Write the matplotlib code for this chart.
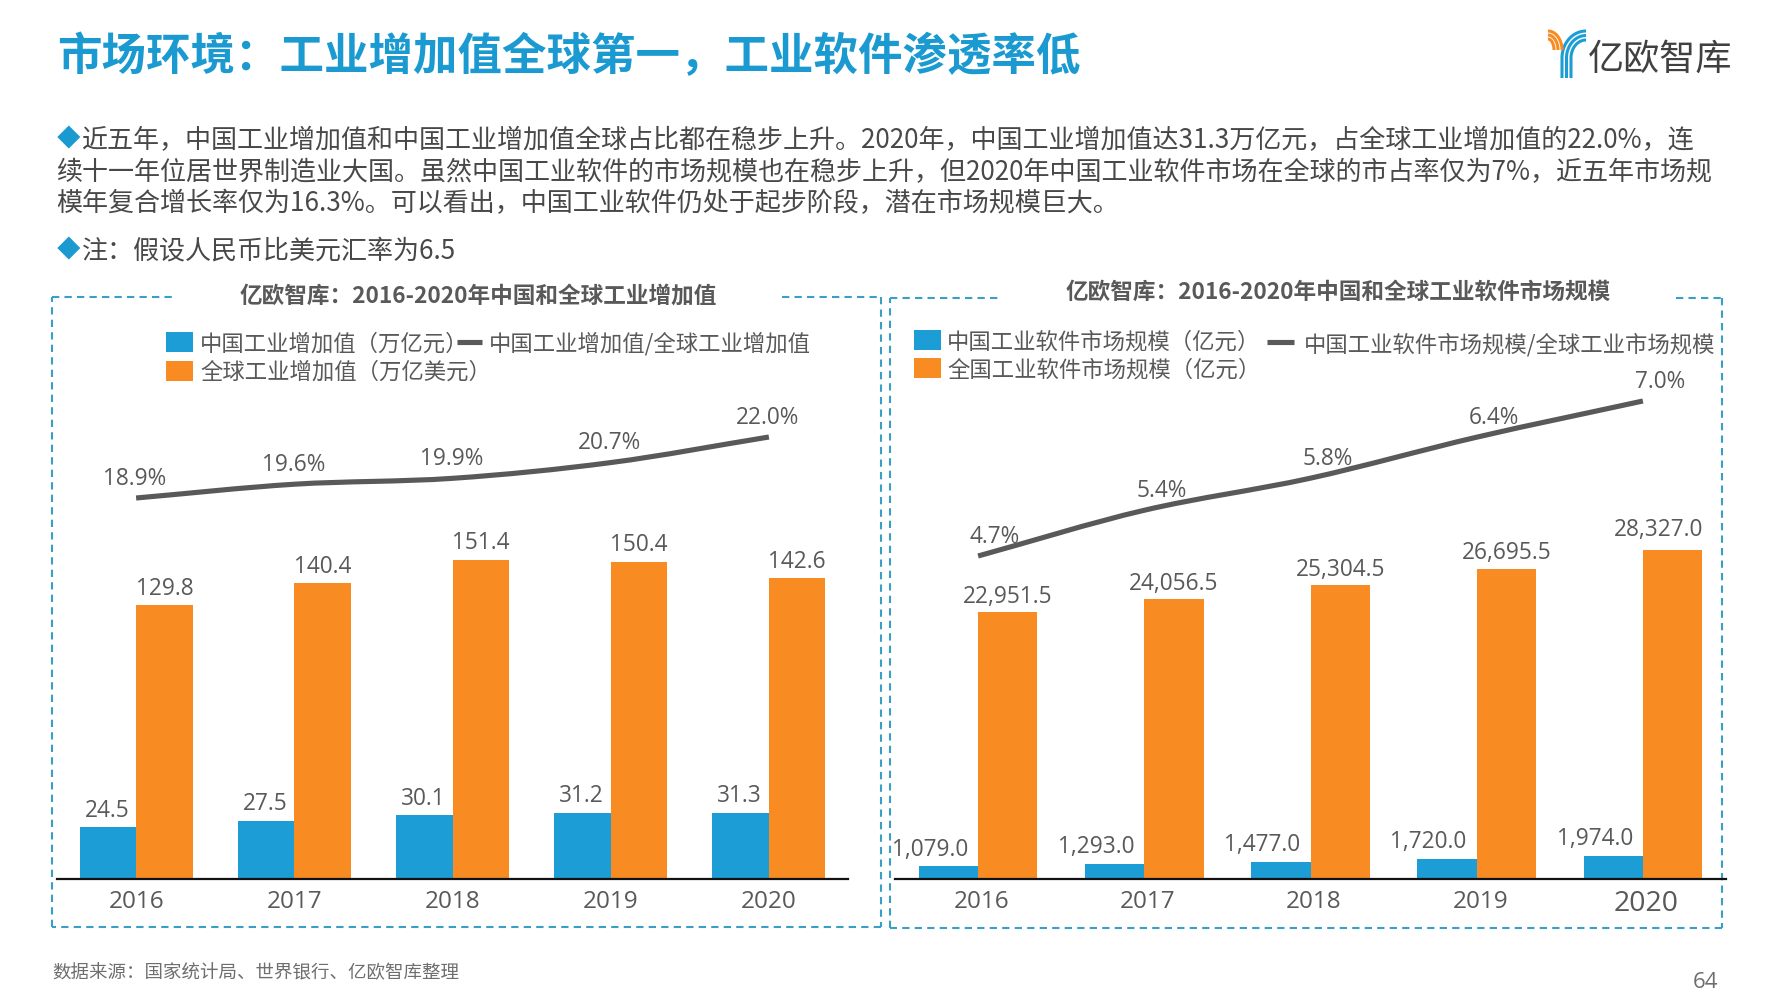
import numpy as np
import matplotlib
matplotlib.use("Agg")
import matplotlib.pyplot as plt
from matplotlib.path import Path
from matplotlib.patches import PathPatch, Rectangle
from matplotlib.transforms import ScaledTranslation

plt.rcParams['font.family'] = ['Noto Sans CJK SC', 'DejaVu Sans']
W, H = 1778, 1000
BLUE, ORANGE, GREY, TXT = '#1C9DD5', '#F88C22', '#595959', '#595959'
TITLE = '#1A9AD0'
FRAME = '#3A9FC4'
LATIN = ['Open Sans', 'DejaVu Sans']

years = ['2016', '2017', '2018', '2019', '2020']
china_value_added = [24.5, 27.5, 30.1, 31.2, 31.3]
world_value_added = [129.8, 140.4, 151.4, 150.4, 142.6]
share_value_added = [18.9, 19.6, 19.9, 20.7, 22.0]
china_software = [1079.0, 1293.0, 1477.0, 1720.0, 1974.0]
world_software = [22951.5, 24056.5, 25304.5, 26695.5, 28327.0]
share_software = [4.70, 5.37, 5.84, 6.44, 6.97]

body_lines = [
    '近五年，中国工业增加值和中国工业增加值全球占比都在稳步上升。2020年，中国工业增加值达31.3万亿元，占全球工业增加值的22.0%，连',
    '续十一年位居世界制造业大国。虽然中国工业软件的市场规模也在稳步上升，但2020年中国工业软件市场在全球的市占率仅为7%，近五年市场规',
    '模年复合增长率仅为16.3%。可以看出，中国工业软件仍处于起步阶段，潜在市场规模巨大。',
]

fig = plt.figure(figsize=(W / 100, H / 100), dpi=100, facecolor='white')
page = fig.add_axes([0, 0, 1, 1])
page.set_xlim(0, W)
page.set_ylim(H, 0)
page.axis('off')
PX = 0.72  # points per pixel


def ptext(x, y, s, size, color=TXT, ha='left', weight='normal', **kw):
    return page.text(x, y, s, fontsize=size, color=color, ha=ha, va='center', weight=weight, **kw)


def smooth(ax, xs, ys, color, lw):
    xs, ys = np.asarray(xs, float), np.asarray(ys, float)
    tx = np.gradient(xs)
    ty = np.gradient(ys)
    verts = [(xs[0], ys[0])]
    codes = [Path.MOVETO]
    for i in range(len(xs) - 1):
        verts += [(xs[i] + tx[i] / 3, ys[i] + ty[i] / 3),
                  (xs[i + 1] - tx[i + 1] / 3, ys[i + 1] - ty[i + 1] / 3),
                  (xs[i + 1], ys[i + 1])]
        codes += [Path.CURVE4] * 3
    ax.add_patch(PathPatch(Path(verts, codes), fc='none', ec=color, lw=lw, capstyle='butt'))


def chart(left, right, top_px, base, px_bar, line_a, line_b, a, b, line, blue_dx, line_dx,
          tick_dx=0, last_dx=0, last_dy=0, b_up=16.2):
    ax = fig.add_axes([left / W, 1 - base / H, (right - left) / W, (base - top_px) / H])
    ax.patch.set_alpha(0)
    x = np.arange(5)
    ax.set_xlim(-0.5, 4.5)
    ax.set_ylim(0, (base - top_px) / px_bar)
    w = 0.357
    ax.bar(x - w / 2, a, w, color=BLUE)
    ax.bar(x + w / 2, b, w, color=ORANGE)
    for s in ['top', 'right', 'left']:
        ax.spines[s].set_visible(False)
    ax.spines['bottom'].set_linewidth(1.6)
    ax.spines['bottom'].set_color('#111111')
    ax.set_yticks([])
    ax.set_xticks(x, years)
    ax.tick_params(axis='x', length=0, pad=8, labelsize=17.5, labelcolor=TXT)
    shift = ScaledTranslation(tick_dx / 100, 0, fig.dpi_scale_trans)
    for lab in ax.get_xticklabels():
        lab.set_family(LATIN)
        lab.set_transform(lab.get_transform() + shift)
    for i in x:
        ax.annotate(f'{a[i]:,.1f}', (i - w / 2, a[i]), xytext=(blue_dx * PX, 16.7 * PX), textcoords='offset points',
                    ha='center', va='center', fontsize=16.3, color=TXT, family=LATIN)
        dx = last_dx if i == 4 else 0
        dy = last_dy if i == 4 else 0
        ax.annotate(f'{b[i]:,.1f}', (i + w / 2, b[i]), xytext=(dx * PX, (b_up + dy) * PX), textcoords='offset points',
                    ha='center', va='center', fontsize=16.3, color=TXT, family=LATIN)
    ax2 = ax.twinx()
    ax2.patch.set_alpha(0)
    (v0, p0), (v1, p1) = line_a, line_b
    per = (p0 - p1) / (v1 - v0)
    lo = v0 - (base - p0) / per
    ax2.set_ylim(lo, lo + (base - top_px) / per)
    ax2.axis('off')
    smooth(ax2, x, line, GREY, 3.7)
    for i in x:
        ax2.annotate(f'{line[i]:.1f}%', (i, line[i]), xytext=(line_dx * PX, 19.4 * PX), textcoords='offset points',
                     ha='center', va='center', fontsize=16.3, color=TXT, family=LATIN)
    return ax


chart(57, 848, 380, 879, 2.11, (18.9, 498), (22.0, 437), china_value_added, world_value_added,
      share_value_added, -1, -1)
axr = chart(895, 1726, 380, 879, 0.01163, (4.70, 556), (6.97, 401), china_software, world_software,
            share_software, -18.5, 17, tick_dx=3.5, last_dx=-14, last_dy=4.5, b_up=15.2)
axr.get_xticklabels()[-1].set_fontsize(20.5)

# title + body
ptext(57, 57.5, '市场环境：工业增加值全球第一，工业软件渗透率低', 32, TITLE, weight='bold')
for (x, y), s in zip(((81.5, 140.5), (56, 172.5), (56, 204)), body_lines):
    ptext(x, y, s, 18.75, '#484848')
ptext(57, 140, '◆', 17, TITLE)
ptext(57, 251, '◆', 17, TITLE)
ptext(81.5, 251, '注：假设人民币比美元汇率为6.5', 18.75, '#484848')

# chart titles
ptext(478.5, 296, '亿欧智库：2016-2020年中国和全球工业增加值', 16.3, GREY, ha='center', weight='bold')
ptext(1338.5, 292, '亿欧智库：2016-2020年中国和全球工业软件市场规模', 16.3, GREY, ha='center', weight='bold')

# frames
for segs in ([((52, 297), (177, 297)), ((782, 297), (881, 297)), ((881, 297), (881, 927)),
              ((881, 927), (52, 927)), ((52, 927), (52, 297))],
             [((890, 298), (1001, 298)), ((1676, 298), (1722, 298)), ((1722, 298), (1722, 928)),
              ((1722, 928), (890, 928)), ((890, 928), (890, 298))]):
    for (x0, y0), (x1, y1) in segs:
        page.plot([x0, x1], [y0, y1], color=FRAME, lw=1.5, ls=(0, (3.5, 2.5)))


# legends
def swatch(x, y, c):
    page.add_patch(Rectangle((x, y), 27, 20, fc=c, ec='none'))


swatch(166, 332, BLUE)
swatch(166, 361, ORANGE)
ptext(200, 344, '中国工业增加值（万亿元）', 16.1)
ptext(200, 372, '全球工业增加值（万亿美元）', 16.1)
page.plot([457, 482], [342, 342], color=GREY, lw=3.7, solid_capstyle='butt')
ptext(489, 344, '中国工业增加值/全球工业增加值', 16.1)

swatch(914, 330, BLUE)
swatch(914, 358, ORANGE)
ptext(947, 342, '中国工业软件市场规模（亿元）', 16.1)
ptext(947, 370, '全国工业软件市场规模（亿元）', 16.1)
page.plot([1267, 1294], [342, 342], color=GREY, lw=3.7, solid_capstyle='butt')
ptext(1304, 345, '中国工业软件市场规模/全球工业市场规模', 16.1)

# footer
ptext(52, 973, '数据来源：国家统计局、世界银行、亿欧智库整理', 13.3, '#6E6E6E')
ptext(1705, 982, '64', 16, '#6E6E6E', ha='center', family=LATIN)

# logo
t = np.linspace(0, np.pi / 2, 30)
for rx, ry in ((24, 27), (19.5, 22.5), (15, 18)):
    xs = 1586 - rx * np.cos(t)
    ys = 58 - ry * np.sin(t)
    page.plot(np.r_[xs[0], xs], np.r_[78, ys], color=BLUE, lw=2.2, solid_capstyle='butt')
for rx, ry in ((14, 19), (10, 15), (6, 11)):
    xs = 1548 + rx * np.sin(t)
    ys = 50 - ry * np.cos(t)
    page.plot(xs, ys, color=ORANGE, lw=2.2, solid_capstyle='butt')
ptext(1588, 60, '亿欧智库', 26, '#404040')

fig.savefig('out.png', dpi=100, facecolor='white')
